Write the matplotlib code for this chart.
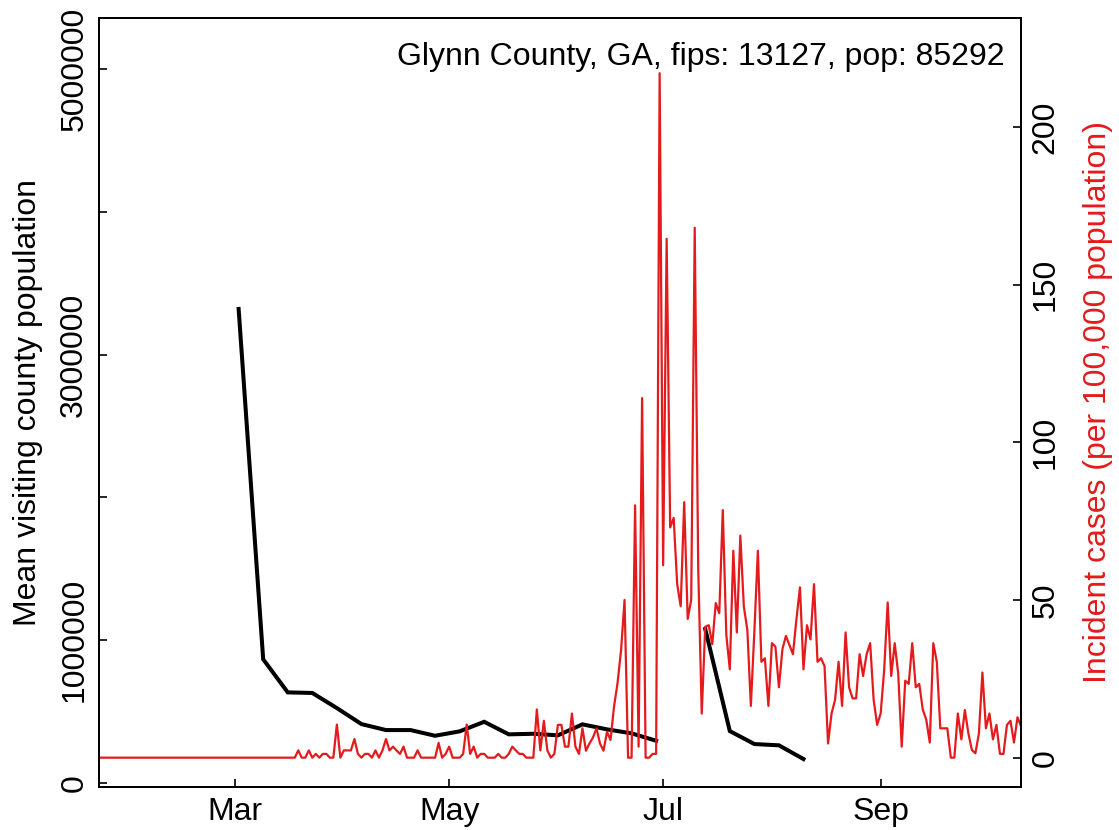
import numpy as np
import pandas as pd
import matplotlib
matplotlib.use("Agg")
import matplotlib.pyplot as plt

plt.rcParams['font.family'] = ['Liberation Sans', 'DejaVu Sans']

RED = '#E41A1C'

# weekly mean visiting county population (starting Mon 2020-03-02), NaN = missing week
visit_start = '2020-03-02'
visit_pop = [3320000, 865000, 633000, 629000, 523000, 411000, 369000, 369000,
             329000, 360000, 427000, 339000, 343000, 332000, 409000, 374000,
             346000, 294000, np.nan, 1077000, 362000, 271000, 262000, 166000]

# daily incident cases per 100,000 (starting 2020-01-22)
case_start = '2020-01-22'
cases = [
    # Jan 22 - Mar 17
    0, 0, 0, 0, 0, 0, 0, 0, 0, 0, 0, 0, 0, 0, 0, 0, 0, 0, 0, 0,
    0, 0, 0, 0, 0, 0, 0, 0, 0, 0, 0, 0, 0, 0, 0, 0, 0, 0, 0, 0,
    0, 0, 0, 0, 0, 0, 0, 0, 0, 0, 0, 0, 0, 0, 0, 0,
    # Mar 18 onward
    0, 2.3, 0, 0, 2.3, 0, 1.2, 0, 1.2, 1.2, 0, 0, 10.5, 0, 2.3, 2.3,
    2.3, 5.9, 1.2, 0, 1.2, 1.2, 0, 2.3, 0, 2.3, 5.9, 2.3, 3.5, 2.3,
    1.2, 3.5, 0, 0, 0, 2.3, 0, 0, 0, 0, 0, 4.7, 0, 1.2, 3.5, 0,
    0, 0, 1.2, 10.5, 1.2, 3.5, 0, 1.2, 1.2, 0, 0, 0, 1.2, 0,
    0, 1.2, 3.5, 2.3, 1.2, 1.2, 0, 0, 0, 15.3, 2.3, 11.7, 2.3, 0,
    1.2, 10.4, 10.4, 3.5, 3.5, 14.0, 3.5, 1.2, 9.3, 2.2, 4.5, 6.4, 9.3, 4.5,
    2.2, 8.2, 5.6, 16.2, 23.6, 34.0, 50.0, 0, 0, 80.0, 3.5, 114.0, 0, 0,
    1.2, 1.2, 217.0, 61.0, 164.5, 73.0, 76.0, 55.0, 48.0, 81.0, 44.0, 50.0,
    168.0, 60.0, 14.0, 41.5, 42.0, 36.0, 49.0, 45.8, 78.5, 39.0, 28.0, 65.6,
    39.7, 70.4, 47.9, 40.5, 16.4, 40.0, 65.6, 30.4, 31.5, 16.4, 36.3, 35.2,
    22.3, 34.4, 38.6, 35.7, 32.8, 44.0, 54.0, 28.0, 42.0, 37.5, 55.0, 30.4,
    31.5, 29.0, 4.5, 14.0, 18.3, 30.4, 16.4, 39.7, 22.3, 18.8, 18.8, 32.8,
    25.9, 32.8, 36.3, 18.3, 10.4, 14.0, 27.8, 49.2, 25.9, 36.3, 26.7, 3.5,
    24.4, 23.4, 36.3, 22.3, 23.4, 15.3, 12.0, 4.8, 36.3, 30.4, 9.3, 9.3,
    9.3, 0, 0, 14.0, 5.8, 15.1, 7.7, 2.4, 1.4, 7.7, 27.0, 9.3, 14.0, 5.8,
    10.4, 1.2, 1.2, 10.4, 11.7, 4.8, 12.8, 10.0,
]

month_ticks = ['2020-03-01', '2020-05-01', '2020-07-01', '2020-09-01']
month_labels = ['Mar', 'May', 'Jul', 'Sep']
left_ticks = [0, 1000000, 2000000, 3000000, 4000000, 5000000]
left_labels = ['0', '1000000', '', '3000000', '', '5000000']
right_ticks = [0, 50, 100, 150, 200]
title = 'Glynn County, GA, fips: 13127, pop: 85292'

visit_dates = pd.date_range(visit_start, periods=len(visit_pop), freq='7D')
case_dates = pd.date_range(case_start, periods=len(cases), freq='D')

fig = plt.figure(figsize=(11.19, 8.30), dpi=100)
ax = fig.add_axes([99 / 1119, 1 - 787 / 830, 922 / 1119, 769 / 830])
ax2 = ax.twinx()

ax.plot(visit_dates, visit_pop, color='black', lw=2.9, solid_joinstyle='miter')
ax2.plot(case_dates, cases, color=RED, lw=1.6)

x0 = pd.Timestamp('2020-03-01')
ax.set_xlim(x0 - pd.Timedelta(days=38.8), x0 + pd.Timedelta(days=224.0))
ax.set_ylim(-30000, 5359000)
ax2.set_ylim(-9.3, 234.5)

ax.set_xticks(pd.to_datetime(month_ticks))
ax.set_xticklabels(month_labels)
ax.set_yticks(left_ticks)
ax.set_yticklabels(left_labels, rotation=90, va='center')
ax2.set_yticks(right_ticks)
ax2.set_yticklabels([str(t) for t in right_ticks], rotation=90, va='center')

for a in (ax, ax2):
    a.tick_params(direction='in', length=6, width=1.2, labelsize=23, pad=7)
    for s in a.spines.values():
        s.set_linewidth(1.4)

ax.set_ylabel('Mean visiting county population', fontsize=23, labelpad=12)
ax2.set_ylabel('Incident cases (per 100,000 population)', fontsize=23,
               color=RED, labelpad=16)

ax.text(0.9826, 0.949, title, transform=ax.transAxes, ha='right', va='center',
        fontsize=23)

fig.savefig('out.png', dpi=100)
